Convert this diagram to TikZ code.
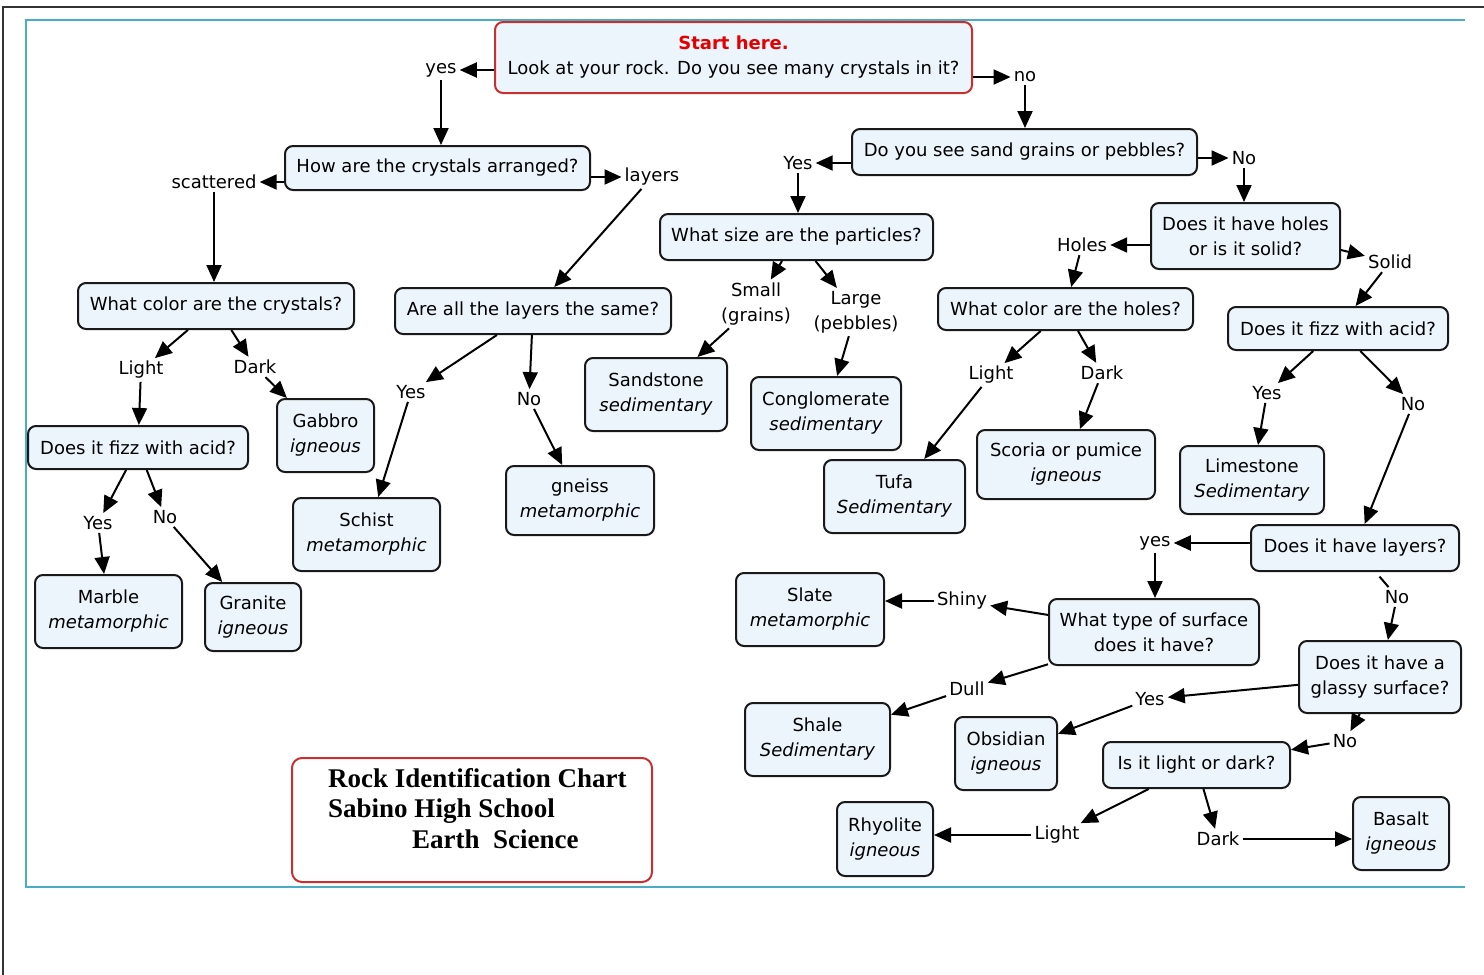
\documentclass[tikz,border=0pt]{standalone}
\usepackage{fontspec}
\setmainfont{DejaVu Sans}
\newfontfamily\titlefont{Liberation Serif}
\usetikzlibrary{arrows.meta,calc}
\definecolor{boxfill}{RGB}{236,245,251}
\definecolor{redline}{RGB}{200,48,48}
\definecolor{startred}{RGB}{228,0,0}
\definecolor{framecol}{RGB}{75,172,198}
\begin{document}
\begin{tikzpicture}[x=1pt,y=-1pt,
  txt/.style={font=\fontsize{18}{25}\selectfont},
  box/.style={txt, draw=black!90, fill=boxfill, line width=2pt, rounded corners=8pt, align=center, inner sep=0pt},
  redbox/.style={box, draw=redline},
  lbl/.style={txt, align=center, inner sep=3pt},
  arr/.style={draw, line width=2pt, -{Triangle[length=17pt,width=15pt]}},
  plain/.style={draw, line width=2pt}
]
\useasboundingbox (0,0) rectangle (1484,975);
\fill[white] (0,0) rectangle (1484,975);
% frames
\draw[line width=2pt, black!80] (3,975) -- (3,7) -- (1484,7);
\draw[line width=2.2pt, framecol] (1465,20) -- (26,20) -- (26,887) -- (1465,887);

% boxes
\node[redbox, minimum width=477pt, minimum height=71pt] (start) at (733.5,57.5)
  {\textcolor{startred}{\bfseries Start here.}\\Look at your rock. Do you see many crystals in it?};
\node[box, minimum width=305pt, minimum height=44pt] (arrange) at (437.5,168) {How are the crystals arranged?};
\node[box, minimum width=345pt, minimum height=46pt] (sand) at (1024.5,152) {Do you see sand grains or pebbles?};
\node[box, minimum width=189pt, minimum height=66pt] (holes) at (1245.5,236) {Does it have holes\\or is it solid?};
\node[box, minimum width=273pt, minimum height=46pt] (size) at (796.5,237) {What size are the particles?};
\node[box, minimum width=276pt, minimum height=46pt] (colorcrys) at (216,306) {What color are the crystals?};
\node[box, minimum width=276pt, minimum height=46pt] (layerssame) at (533,311) {Are all the layers the same?};
\node[box, minimum width=255pt, minimum height=42pt] (colorholes) at (1065.5,309) {What color are the holes?};
\node[box, minimum width=220pt, minimum height=43pt] (fizz2) at (1338,328.5) {Does it fizz with acid?};
\node[box, minimum width=142pt, minimum height=73pt] (sandstone) at (656,394.5) {Sandstone\\\textit{sedimentary}};
\node[box, minimum width=150pt, minimum height=73pt] (conglom) at (826,413.5) {Conglomerate\\\textit{sedimentary}};
\node[box, minimum width=97pt, minimum height=73pt] (gabbro) at (325.5,435.5) {Gabbro\\\textit{igneous}};
\node[box, minimum width=220pt, minimum height=43pt] (fizz1) at (138,447.5) {Does it fizz with acid?};
\node[box, minimum width=178pt, minimum height=69pt] (scoria) at (1066,464.5) {Scoria or pumice\\\textit{igneous}};
\node[box, minimum width=144pt, minimum height=68pt] (limestone) at (1252,480) {Limestone\\\textit{Sedimentary}};
\node[box, minimum width=141pt, minimum height=73pt] (tufa) at (894.5,496.5) {Tufa\\\textit{Sedimentary}};
\node[box, minimum width=148pt, minimum height=69pt] (gneiss) at (580,500.5) {gneiss\\\textit{metamorphic}};
\node[box, minimum width=147pt, minimum height=73pt] (schist) at (366.5,534.5) {Schist\\\textit{metamorphic}};
\node[box, minimum width=208pt, minimum height=46pt] (layers) at (1355,548) {Does it have layers?};
\node[box, minimum width=147pt, minimum height=73pt] (marble) at (108.5,611.5) {Marble\\\textit{metamorphic}};
\node[box, minimum width=96pt, minimum height=68pt] (granite) at (253,617) {Granite\\\textit{igneous}};
\node[box, minimum width=148pt, minimum height=73pt] (slate) at (810,609.5) {Slate\\\textit{metamorphic}};
\node[box, minimum width=210pt, minimum height=66pt] (surface) at (1154,632) {What type of surface\\does it have?};
\node[box, minimum width=162pt, minimum height=72pt] (glassy) at (1380,677) {Does it have a\\glassy surface?};
\node[box, minimum width=145pt, minimum height=73pt] (shale) at (817.5,739.5) {Shale\\\textit{Sedimentary}};
\node[box, minimum width=102pt, minimum height=73pt] (obsidian) at (1006,753.5) {Obsidian\\\textit{igneous}};
\node[box, minimum width=187pt, minimum height=46pt] (lightdark) at (1196.5,765) {Is it light or dark?};
\node[box, minimum width=96pt, minimum height=74pt] (rhyolite) at (885,839) {Rhyolite\\\textit{igneous}};
\node[box, minimum width=96pt, minimum height=73pt] (basalt) at (1401,833.5) {Basalt\\\textit{igneous}};

% title
\node[redbox, fill=white, rounded corners=10pt, minimum width=360pt, minimum height=124pt] (titlebox) at (472,820) {};
\node[anchor=north west, inner sep=0pt, align=left, font=\titlefont\bfseries\fontsize{27}{30.5}\selectfont] (titletext) at (328,768)
  {Rock Identification Chart\\Sabino High School\\\hspace*{84pt}Earth\ \ Science};

% labels
\node[lbl] (yes1) at (441,70) {yes};
\node[lbl] (no1) at (1025,77) {no};
\node[lbl] (scattered) at (214,182) {scattered};
\node[lbl] (layerslbl) at (652,177) {layers};
\node[lbl] (sandyes) at (798,163) {Yes};
\node[lbl] (sandno) at (1244,158) {No};
\node[lbl] (holeslbl) at (1082,245) {Holes};
\node[lbl] (solid) at (1390,262) {Solid};
\node[lbl] (small) at (756,304) {Small\\(grains)};
\node[lbl] (large) at (856,312) {Large\\(pebbles)};
\node[lbl] (light1) at (141,370) {Light};
\node[lbl] (dark1) at (255,367) {Dark};
\node[lbl] (yes2) at (411,392) {Yes};
\node[lbl] (no2) at (529,399) {No};
\node[lbl] (light2) at (991,375) {Light};
\node[lbl] (dark2) at (1102,373) {Dark};
\node[lbl] (yes3) at (1267,393) {Yes};
\node[lbl] (no3) at (1413,404) {No};
\node[lbl] (yes4) at (98,523) {Yes};
\node[lbl] (no4) at (165,517) {No};
\node[lbl] (yes5) at (1155,543) {yes};
\node[lbl] (no5) at (1397,597) {No};
\node[lbl] (shiny) at (962,601) {Shiny};
\node[lbl] (dull) at (967,689) {Dull};
\node[lbl] (yes6) at (1150,699) {Yes};
\node[lbl] (no6) at (1345,741) {No};
\node[lbl] (light3) at (1057,835) {Light};
\node[lbl] (dark3) at (1218,839) {Dark};

% connectors
\draw[arr] (start.west |- yes1) -- (yes1);
\draw[arr] (start.east |- no1) -- (no1);
\draw[arr] (yes1) -- (yes1 |- arrange.north);
\draw[arr] (no1) -- (no1 |- sand.north);
\draw[arr] (arrange.west |- scattered) -- (scattered);
\draw[arr] (arrange.east |- layerslbl) -- (layerslbl);
\draw[arr] (scattered) -- (scattered |- colorcrys.north);
\draw[arr] (layerslbl) -- (layerssame);
\draw[arr] (sand.west |- sandyes) -- (sandyes);
\draw[arr] (sand.east |- sandno) -- (sandno);
\draw[arr] (sandyes) -- (sandyes |- size.north);
\draw[arr] (sandno) -- (sandno |- holes.north);
\draw[arr] (holes.west |- holeslbl) -- (holeslbl);
\draw[arr] ($(holes.east)+(0,14)$) -- (solid);
\draw[arr] (holeslbl) -- (colorholes);
\draw[arr] (solid) -- (fizz2);
\draw[arr] (size) -- (small);
\draw[arr] (size) -- (large);
\draw[arr] (small) -- (sandstone);
\draw[arr] (large) -- (conglom);
\draw[arr] (colorcrys) -- (light1);
\draw[arr] (colorcrys) -- (dark1);
\draw[arr] (light1) -- (fizz1);
\draw[arr] (dark1) -- (gabbro);
\draw[arr] (layerssame) -- (yes2);
\draw[arr] (layerssame) -- (no2);
\draw[arr] (yes2) -- (schist);
\draw[arr] (no2) -- (gneiss);
\draw[arr] (colorholes) -- (light2);
\draw[arr] (colorholes) -- (dark2);
\draw[arr] (light2) -- (tufa);
\draw[arr] (dark2) -- (scoria);
\draw[arr] (fizz2) -- (yes3);
\draw[arr] (fizz2) -- (no3);
\draw[arr] (yes3) -- (limestone);
\draw[arr] (no3) -- (layers);
\draw[arr] (fizz1) -- (yes4);
\draw[arr] (fizz1) -- (no4);
\draw[arr] (yes4) -- (marble);
\draw[arr] (no4) -- (granite);
\draw[arr] (layers.west |- yes5) -- (yes5);
\draw[arr] (yes5) -- (yes5 |- surface.north);
\draw[plain, shorten <=6pt] (layers) -- (no5);
\draw[arr] (no5) -- (glassy);
\draw[arr] (surface) -- (shiny);
\draw[arr] (shiny.west) -- (slate.east |- shiny.west);
\draw[arr] (surface) -- (dull);
\draw[arr] (dull) -- (shale);
\draw[arr] (glassy) -- (yes6);
\draw[arr] (yes6) -- (obsidian);
\draw[arr] (glassy) -- (no6);
\draw[arr] (no6) -- (lightdark);
\draw[arr] (lightdark) -- (light3);
\draw[arr] (lightdark) -- (dark3);
\draw[arr] (light3.west) -- (rhyolite.east |- light3.west);
\draw[arr] (dark3.east) -- (basalt.west |- dark3.east);
\end{tikzpicture}
\end{document}
